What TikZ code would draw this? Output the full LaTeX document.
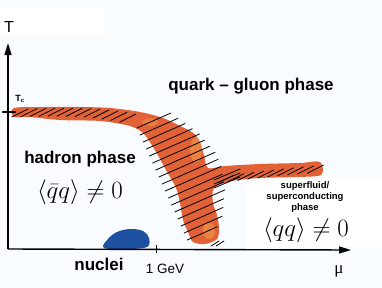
\documentclass[tikz,border=0pt]{standalone}
\usepackage{fontspec}
\setmainfont{Liberation Sans}
\newfontfamily\greekserif{Liberation Serif}
\usepackage{amsmath}
\usepackage{xcolor}
\definecolor{bgtint}{RGB}{249,252,255}
\definecolor{bandred}{RGB}{226,98,56}
\definecolor{bandlight}{RGB}{240,146,72}
\definecolor{nucblue}{RGB}{30,80,160}
\usetikzlibrary{arrows.meta,decorations.markings}

\begin{document}
\begin{tikzpicture}[
		x=1pt, y=-1pt,
		every node/.style={inner sep=1pt},
		phase/.style={font=\fontsize{17}{17}\selectfont\bfseries, inner sep=0pt},
		cond/.style={font=\fontsize{23}{23}\selectfont, inner sep=0pt},
		hatch/.style={black, line width=0.8pt, line cap=round},
		axis/.style={line width=1.4pt, -{Triangle[length=12pt, width=7pt]}},
		hatchrow/.style={decorate, decoration={markings,
			mark=between positions 0 and 1 step #1 with {\pgftransformresetnontranslations \draw[hatch] (-8,4) -- (8,-4);}}},
		hatchrow/.default=9pt
	]
		% Canvas
		\useasboundingbox (0,0) rectangle (382,287);
		\fill[bgtint] (0,0) rectangle (382,287);
		\fill[white] (0,8) rectangle (105,35);
		\fill[white] (246,178) rectangle (382,247);

		% Transition band
		\fill[bandred] plot[smooth cycle, tension=0.5] coordinates {
			(14,108) (45,107) (80,107) (110,108) (140,112) (163,118) (180,126) (192,132)
			(199,140) (204,155) (208,168) (225,166) (260,164) (300,163) (320,162) (321,175)
			(295,177) (260,178) (232,181) (214,188) (213,203) (217,215) (219,228) (217,239)
			(205,244) (193,242) (188,232) (183,220) (180,203) (176,188) (166,170) (156,152)
			(144,134) (130,126) (100,121) (60,120) (30,117) (14,117)};
		\fill[bandlight, opacity=0.7] (196,150) ellipse [x radius=6, y radius=12];
		\fill[bandlight, opacity=0.7] (209,231) ellipse [x radius=6, y radius=8];
		\fill[bandlight, opacity=0.5] (150,122) ellipse [x radius=8, y radius=4];

		% Hatching
		\path[hatchrow=9pt] (20,113) .. controls (70,111) and (105,112) .. (135,120);
		\foreach \yl/\len in {128/34, 135/38, 142/42, 149/46, 156/50, 163/52, 170/54, 177/56, 184/56,
			191/56, 198/54, 205/52, 212/50, 219/46, 226/42, 233/38, 240/30} {
			\draw[hatch] ({140+0.45*(\yl-135)},\yl) -- ++(\len,{-0.44*\len});
		}
		\path[hatchrow=10pt] (226,179) .. controls (255,175) and (290,171) .. (318,169);
		\foreach \yj in {180,184,188} {
			\draw[hatch] (214,\yj) -- ++(26,-11);
		}
		\foreach \xb in {211,216} {
			\draw[hatch] (\xb,246) -- ++(8,-5);
		}

		% Nuclei
		\fill[nucblue] plot[smooth cycle, tension=0.6] coordinates {
			(104,248) (108,239) (117,232) (130,229) (143,231) (149,238) (147,247) (128,249)};

		% Axes
		\coordinate (origin) at (8,249);
		\draw[axis] (origin) -- (8,43);
		\draw[axis] (origin) -- (351,250);
		\draw[line width=2.8pt, line cap=round] (3,112) -- (15,112);
		\draw[line width=1pt] (156,245) -- (156,253);

		% Labels
		\node[font=\fontsize{16}{16}\selectfont] (taxis) at (9,27) {T};
		\node[font=\fontsize{9}{9}\selectfont\bfseries] (tcrit) at (20,99) {T\textsubscript{c}};
		\node[phase] (qgp) at (251,86) {quark -- gluon phase};
		\node[phase] (hadron) at (80,159) {hadron phase};
		\node[cond] (chiral) at (80,192) {$\langle\bar q q\rangle \neq 0$};
		\node[font=\fontsize{9.5}{11}\selectfont\bfseries, align=center] (csc) at (305,197) {superfluid/\\superconducting\\phase};
		\node[cond] (diquark) at (306,230) {$\langle q q\rangle \neq 0$};
		\node[phase] (nuclei) at (99,264) {nuclei};
		\node[font=\fontsize{13.5}{13.5}\selectfont] (gev) at (165,269) {1 GeV};
		\node[font=\fontsize{17}{17}\selectfont\greekserif] (muaxis) at (339,271) {μ};
	\end{tikzpicture}
\end{document}
